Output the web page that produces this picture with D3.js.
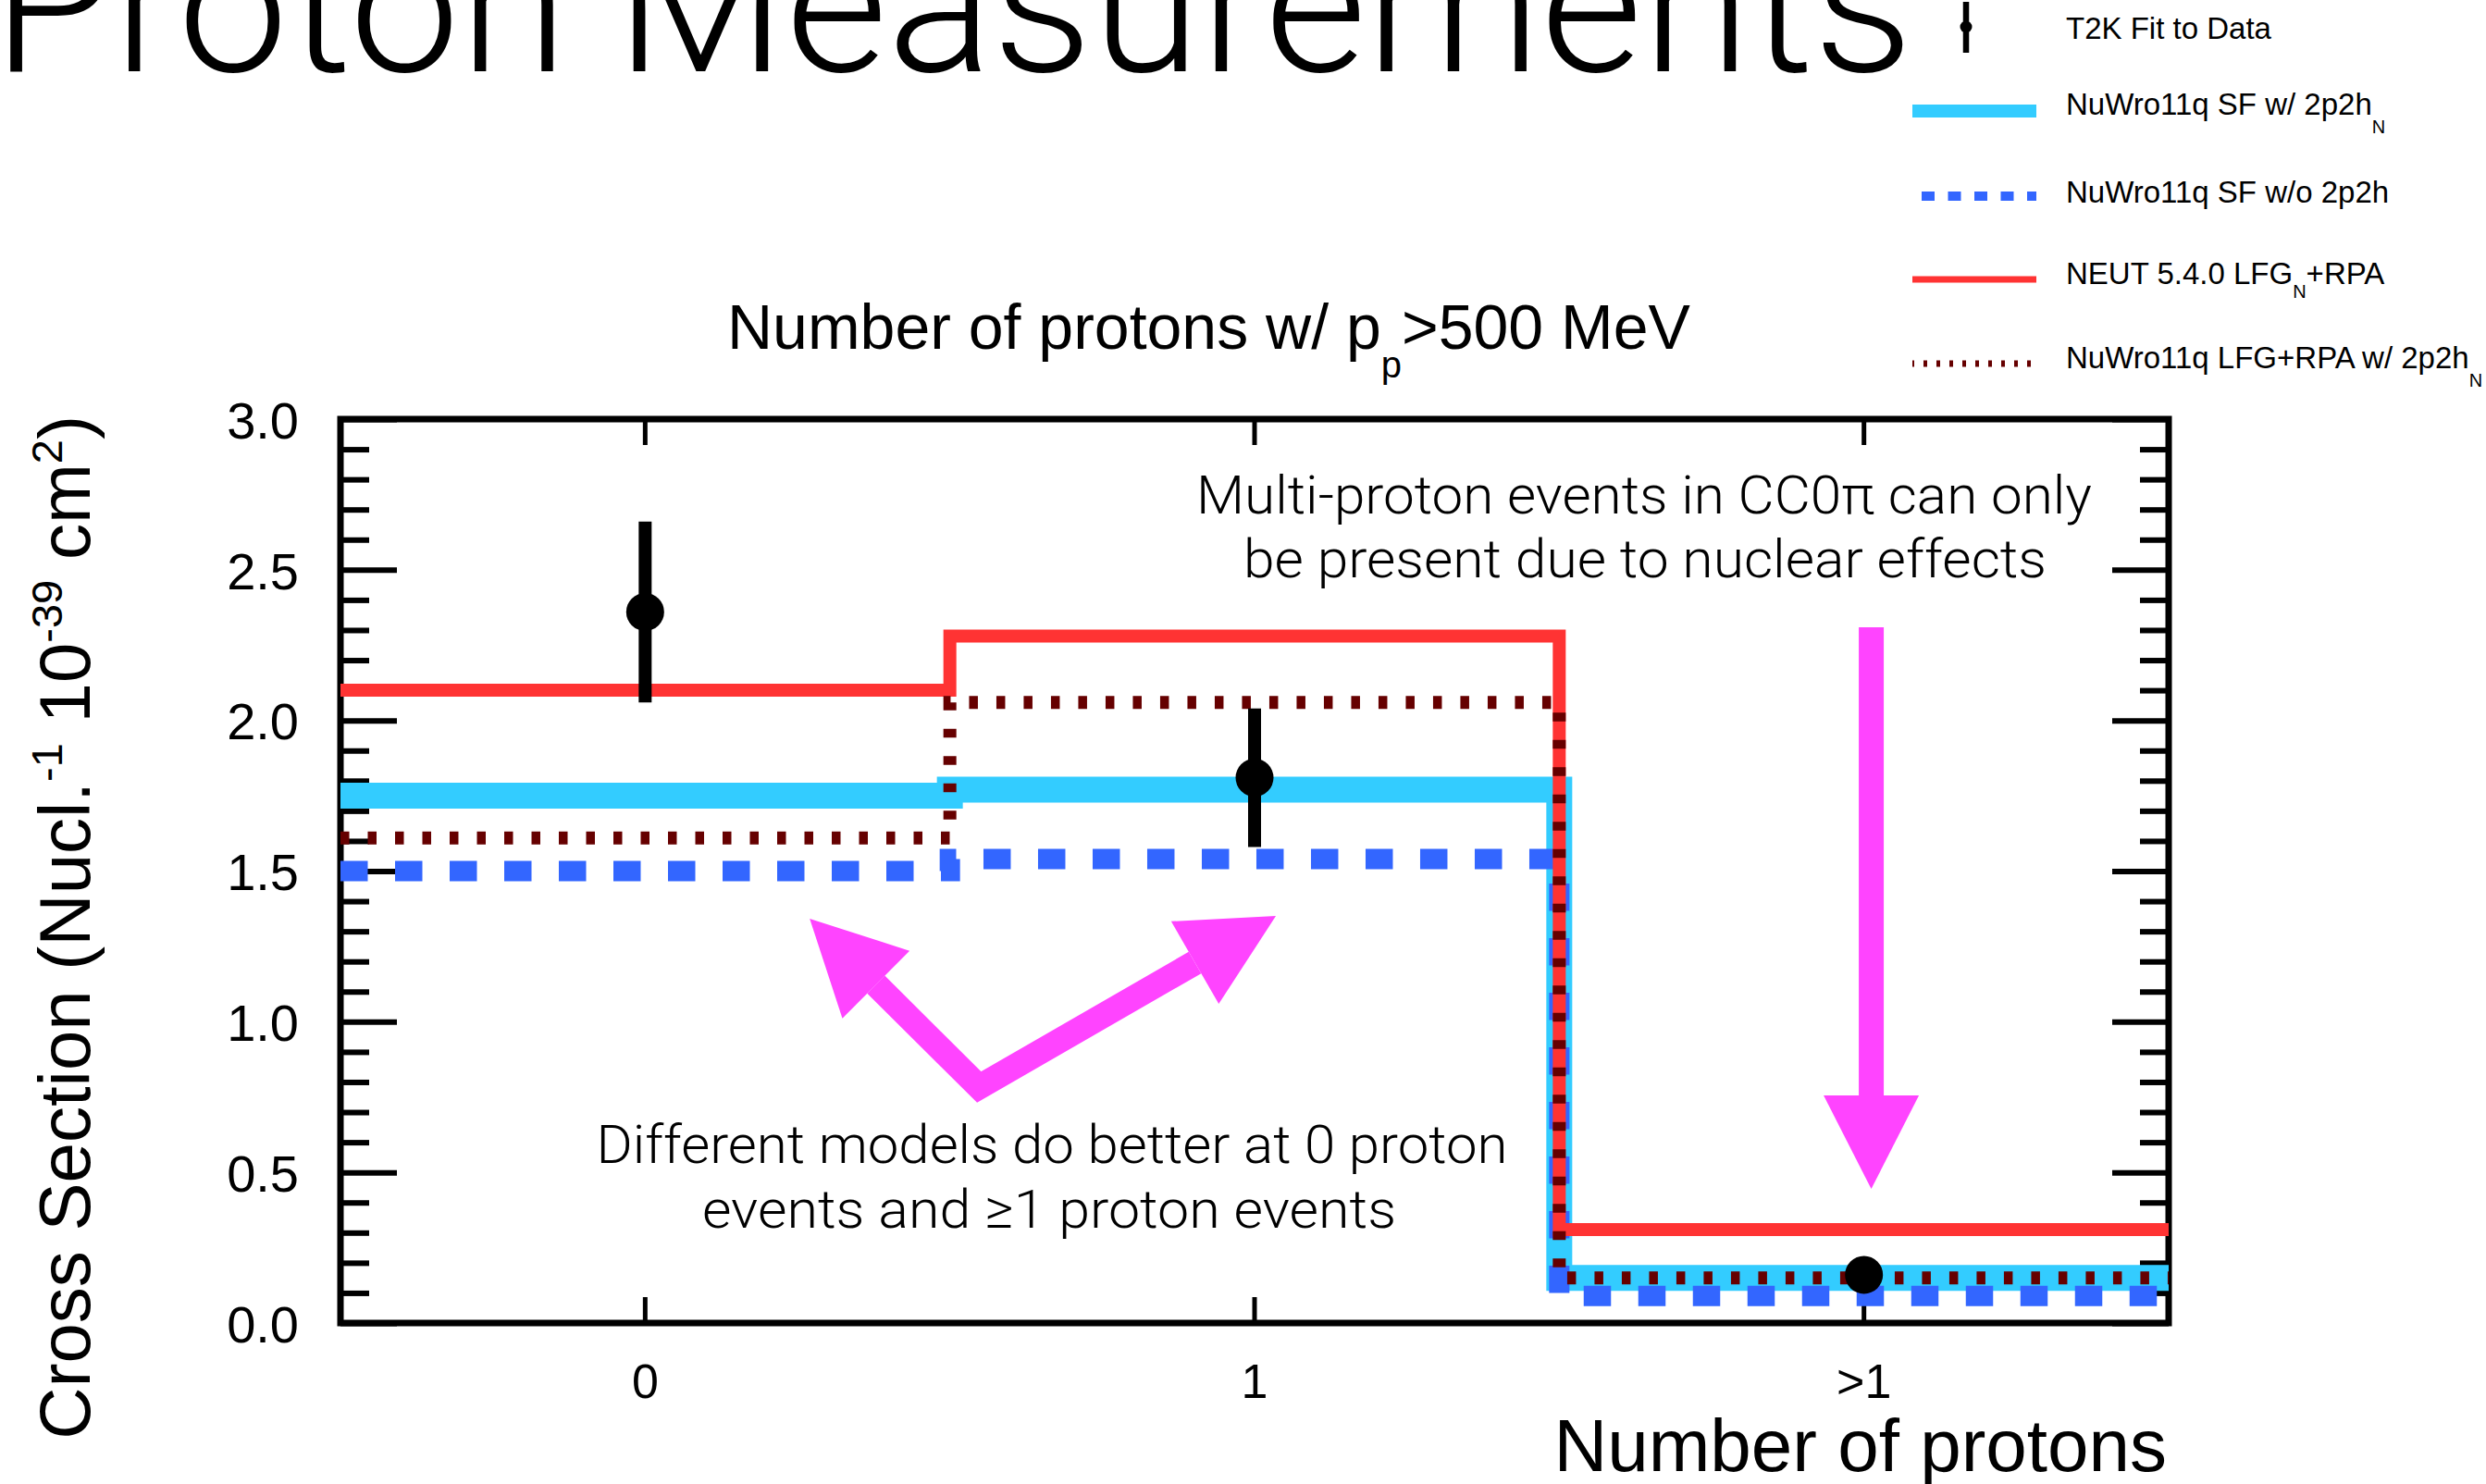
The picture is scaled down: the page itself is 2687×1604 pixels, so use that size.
<!DOCTYPE html>
<html>
<head>
<meta charset="utf-8">
<script src="https://cdn.jsdelivr.net/npm/d3@7"></script>
<style>
  html, body { margin: 0; padding: 0; background: #ffffff; }
  svg { display: block; }
</style>
</head>
<body>
<svg id="chart" width="2687" height="1604"></svg>
<script>
// CC0pi cross section (per nucleon, 10^-39 cm^2) split by number of protons with p_p > 500 MeV
const categories = ["0", "1", ">1"];
const t2kValues = [2.36, 1.81, 0.16];
const t2kErrors = [0.30, 0.23, 0.03];
const nuwroSF2p2h = [1.75, 1.77, 0.15];
const nuwroSFno2p2h = [1.50, 1.54, 0.09];
const neutLFGRPA = [2.10, 2.28, 0.31];
const nuwroLFGRPA2p2h = [1.61, 2.06, 0.15];
const yMajorTicks = [0.0, 0.5, 1.0, 1.5, 2.0, 2.5, 3.0];
const yDomain = [0, 3];

const legendEntries = [
  { text: "T2K Fit to Data", sub: "", after: "", subDy: 0 },
  { text: "NuWro11q SF w/ 2p2h", sub: "N", after: "", subDy: 20 },
  { text: "NuWro11q SF w/o 2p2h", sub: "", after: "", subDy: 0 },
  { text: "NEUT 5.4.0 LFG", sub: "N", after: "+RPA", subDy: 15 },
  { text: "NuWro11q LFG+RPA w/ 2p2h", sub: "N", after: "", subDy: 20 }
];

const ROOT_FONT = "'Liberation Sans', Arial, Helvetica, sans-serif";
const LIGHT_FONT = "Roboto, 'Liberation Sans', sans-serif";

const svg = d3.select("#chart");
const frame = { left: 368, right: 2344, top: 453, bottom: 1430 };

const x = d3.scaleBand().domain(categories).range([frame.left, frame.right]).padding(0);
// continuous version of the bin axis (bin centres at 0, 1, 2) for annotation arrows
const xIdx = d3.scaleLinear().domain([-0.5, categories.length - 0.5]).range([frame.left, frame.right]);
const y = d3.scaleLinear().domain(yDomain).range([frame.bottom, frame.top]);

// ---------- slide heading (partly cut off at the top) ----------
svg.append("text")
  .attr("x", -8).attr("y", 77)
  .attr("font-family", LIGHT_FONT).attr("font-weight", 300)
  .attr("font-size", 208)
  .attr("textLength", 2076).attr("lengthAdjust", "spacingAndGlyphs")
  .attr("fill", "#000")
  .text("Proton Measurements");

// ---------- axes ----------
const minorTicks = d3.range(0, 30.5, 1).map(d => d / 10).filter(d => Math.round(d * 10) % 5 !== 0);

function styleAxis(g, width) {
  g.select(".domain").remove();
  g.selectAll(".tick line").attr("stroke", "#000").attr("stroke-width", width);
  g.attr("font-family", ROOT_FONT).attr("fill", null);
}

const gAxes = svg.append("g");

// left: major with labels, minor without
gAxes.append("g").attr("transform", `translate(${frame.left},0)`)
  .call(d3.axisLeft(y).tickValues(yMajorTicks).tickFormat(d3.format(".1f"))
    .tickSizeInner(-61).tickSizeOuter(0).tickPadding(45))
  .call(g => styleAxis(g, 6))
  .call(g => g.selectAll(".tick text").attr("font-size", 56).attr("fill", "#000").attr("dy", "0.36em"));
gAxes.append("g").attr("transform", `translate(${frame.left},0)`)
  .call(d3.axisLeft(y).tickValues(minorTicks).tickFormat("").tickSizeInner(-31).tickSizeOuter(0))
  .call(g => styleAxis(g, 6));

// right: mirrored ticks
gAxes.append("g").attr("transform", `translate(${frame.right},0)`)
  .call(d3.axisRight(y).tickValues(yMajorTicks).tickFormat("").tickSizeInner(-61).tickSizeOuter(0))
  .call(g => styleAxis(g, 6));
gAxes.append("g").attr("transform", `translate(${frame.right},0)`)
  .call(d3.axisRight(y).tickValues(minorTicks).tickFormat("").tickSizeInner(-31).tickSizeOuter(0))
  .call(g => styleAxis(g, 6));

// bottom: bin labels
gAxes.append("g").attr("transform", `translate(0,${frame.bottom})`)
  .call(d3.axisBottom(x).tickSizeInner(-28).tickSizeOuter(0).tickPadding(44))
  .call(g => styleAxis(g, 5))
  .call(g => g.selectAll(".tick text").attr("font-size", 52).attr("fill", "#000"));
// top: mirrored ticks
gAxes.append("g").attr("transform", `translate(0,${frame.top})`)
  .call(d3.axisTop(x).tickFormat("").tickSizeInner(-28).tickSizeOuter(0))
  .call(g => styleAxis(g, 5));

// frame
gAxes.append("rect")
  .attr("x", frame.left).attr("y", frame.top)
  .attr("width", frame.right - frame.left).attr("height", frame.bottom - frame.top)
  .attr("fill", "none").attr("stroke", "#000").attr("stroke-width", 7);

// ---------- axis titles and plot title ----------
svg.append("text")
  .attr("x", 2342).attr("y", 1590)
  .attr("text-anchor", "end")
  .attr("font-family", ROOT_FONT).attr("font-size", 80).attr("fill", "#000")
  .text("Number of protons");

const yTitle = svg.append("text")
  .attr("transform", "translate(97,449) rotate(-90)")
  .attr("text-anchor", "end")
  .attr("font-family", ROOT_FONT).attr("font-size", 78).attr("fill", "#000");
yTitle.append("tspan").text("Cross Section (Nucl.");
yTitle.append("tspan").attr("font-size", 47).attr("dy", -30).text("-1");
yTitle.append("tspan").attr("dy", 30).text(" 10");
yTitle.append("tspan").attr("font-size", 47).attr("dy", -30).text("-39");
yTitle.append("tspan").attr("dy", 30).text(" cm");
yTitle.append("tspan").attr("font-size", 47).attr("dy", -30).text("2");
yTitle.append("tspan").attr("dy", 30).text(")");

const pTitle = svg.append("text")
  .attr("x", 786).attr("y", 377)
  .attr("font-family", ROOT_FONT).attr("font-size", 68).attr("fill", "#000");
pTitle.append("tspan").text("Number of protons w/ p");
pTitle.append("tspan").attr("font-size", 40).attr("dy", 31).text("p");
pTitle.append("tspan").attr("dy", -31).text(">500 MeV");

// ---------- model histograms ----------
const models = [
  { values: nuwroSF2p2h, color: "#33ccff", width: 28, dash: null, lw: 14, ldash: null },
  { values: nuwroSFno2p2h, color: "#3366ff", width: 22, dash: "29.5,29.5", lw: 10, ldash: "14,14.5" },
  { values: neutLFGRPA, color: "#ff3333", width: 14, dash: null, lw: 7, ldash: null },
  { values: nuwroLFGRPA2p2h, color: "#660000", width: 14, dash: "9.5,20", lw: 7, ldash: "4,10" }
];

const stepLine = d3.line().curve(d3.curveStepAfter);
function stepPoints(vals) {
  const pts = vals.map((v, i) => [x(categories[i]), y(v)]);
  pts.push([x.range()[1], y(vals[vals.length - 1])]);
  return pts;
}

svg.append("g").selectAll("path")
  .data(models).join("path")
  .attr("d", d => stepLine(stepPoints(d.values)))
  .attr("fill", "none")
  .attr("stroke", d => d.color)
  .attr("stroke-width", d => d.width)
  .attr("stroke-dasharray", d => d.dash)
  .attr("stroke-linejoin", "miter")
  .attr("stroke-linecap", "butt");

// ---------- T2K result ----------
const gData = svg.append("g");
const cx = c => x(c) + x.bandwidth() / 2;
gData.selectAll("line")
  .data(categories).join("line")
  .attr("x1", cx).attr("x2", cx)
  .attr("y1", (c, i) => y(t2kValues[i] + t2kErrors[i]))
  .attr("y2", (c, i) => y(t2kValues[i] - t2kErrors[i]))
  .attr("stroke", "#000").attr("stroke-width", 14);
gData.selectAll("circle")
  .data(categories).join("circle")
  .attr("cx", cx)
  .attr("cy", (c, i) => y(t2kValues[i]))
  .attr("r", 20.5)
  .attr("fill", "#000");

// ---------- annotation arrows ----------
const MAGENTA = "#ff44ff";
const gArrows = svg.append("g");
function headFor(base, tip) {
  const dx = tip[0] - base[0], dy = tip[1] - base[1];
  const len = Math.hypot(dx, dy);
  const ux = dx / len, uy = dy / len;
  const bx = tip[0] - ux * 101, by = tip[1] - uy * 101;
  const px = -uy * 51.5, py = ux * 51.5;
  return { base: [bx, by], tri: [[tip[0], tip[1]], [bx + px, by + py], [bx - px, by - py]] };
}
const toPx = p => [xIdx(p[0]), y(p[1])];

// V-shaped pair pointing at the 0 and 1 proton bins
const vertex = toPx([0.548, 0.783]);
const tipL = toPx([0.270, 1.342]);
const tipR = toPx([1.035, 1.351]);
const hL = headFor(vertex, tipL), hR = headFor(vertex, tipR);
gArrows.append("path")
  .attr("d", d3.line()([hL.base, vertex, hR.base]))
  .attr("fill", "none").attr("stroke", MAGENTA).attr("stroke-width", 27)
  .attr("stroke-linejoin", "miter").attr("stroke-miterlimit", 10);
[hL, hR].forEach(h => gArrows.append("path")
  .attr("d", d3.line()(h.tri) + "Z").attr("fill", MAGENTA));

// downward arrow to the multi-proton bin
const downStart = toPx([2.012, 2.309]);
const downTip = toPx([2.012, 0.445]);
const hD = headFor(downStart, downTip);
gArrows.append("path")
  .attr("d", d3.line()([downStart, hD.base]))
  .attr("fill", "none").attr("stroke", MAGENTA).attr("stroke-width", 27);
gArrows.append("path").attr("d", d3.line()(hD.tri) + "Z").attr("fill", MAGENTA);

// ---------- annotation text ----------
const notes = [
  { text: "Multi-proton events in CC0\u03c0 can only", x: 1777, y: 555, len: 968 },
  { text: "be present due to nuclear effects", x: 1778, y: 624, len: 868 },
  { text: "Different models do better at 0 proton", x: 1137, y: 1257, len: 985 },
  { text: "events and \u22651 proton events", x: 1134, y: 1327, len: 750 }
];
svg.append("g").selectAll("text")
  .data(notes).join("text")
  .attr("x", d => d.x).attr("y", d => d.y)
  .attr("text-anchor", "middle")
  .attr("font-family", LIGHT_FONT).attr("font-weight", 300)
  .attr("font-size", 58).attr("fill", "#000")
  .attr("textLength", d => d.len).attr("lengthAdjust", "spacingAndGlyphs")
  .text(d => d.text);

// ---------- legend ----------
const legendBaselines = [42, 124, 219, 307, 398];
const legendMarkY = [29, 120, 212, 302, 393];
const gLeg = svg.append("g");

// data marker sample
gLeg.append("line")
  .attr("x1", 2125).attr("x2", 2125).attr("y1", 2).attr("y2", 57)
  .attr("stroke", "#000").attr("stroke-width", 6.5);
gLeg.append("circle").attr("cx", 2125).attr("cy", legendMarkY[0]).attr("r", 6.5).attr("fill", "#000");

// model line samples
const sampleX = [[2067, 2201], [2077, 2201], [2067, 2201], [2067, 2195]];
const sampleOffset = [0, 0, 0, 2];
models.forEach((m, i) => {
  gLeg.append("line")
    .attr("x1", sampleX[i][0]).attr("x2", sampleX[i][1])
    .attr("y1", legendMarkY[i + 1]).attr("y2", legendMarkY[i + 1])
    .attr("stroke", m.color).attr("stroke-width", m.lw)
    .attr("stroke-dasharray", m.ldash)
    .attr("stroke-dashoffset", sampleOffset[i]);
});

legendEntries.forEach((e, i) => {
  const t = gLeg.append("text")
    .attr("x", 2233).attr("y", legendBaselines[i])
    .attr("font-family", ROOT_FONT).attr("font-size", 33).attr("fill", "#000");
  t.append("tspan").text(e.text);
  if (e.sub) t.append("tspan").attr("font-size", 20).attr("dy", e.subDy).text(e.sub);
  if (e.after) t.append("tspan").attr("dy", -e.subDy).text(e.after);
});
</script>
</body>
</html>
